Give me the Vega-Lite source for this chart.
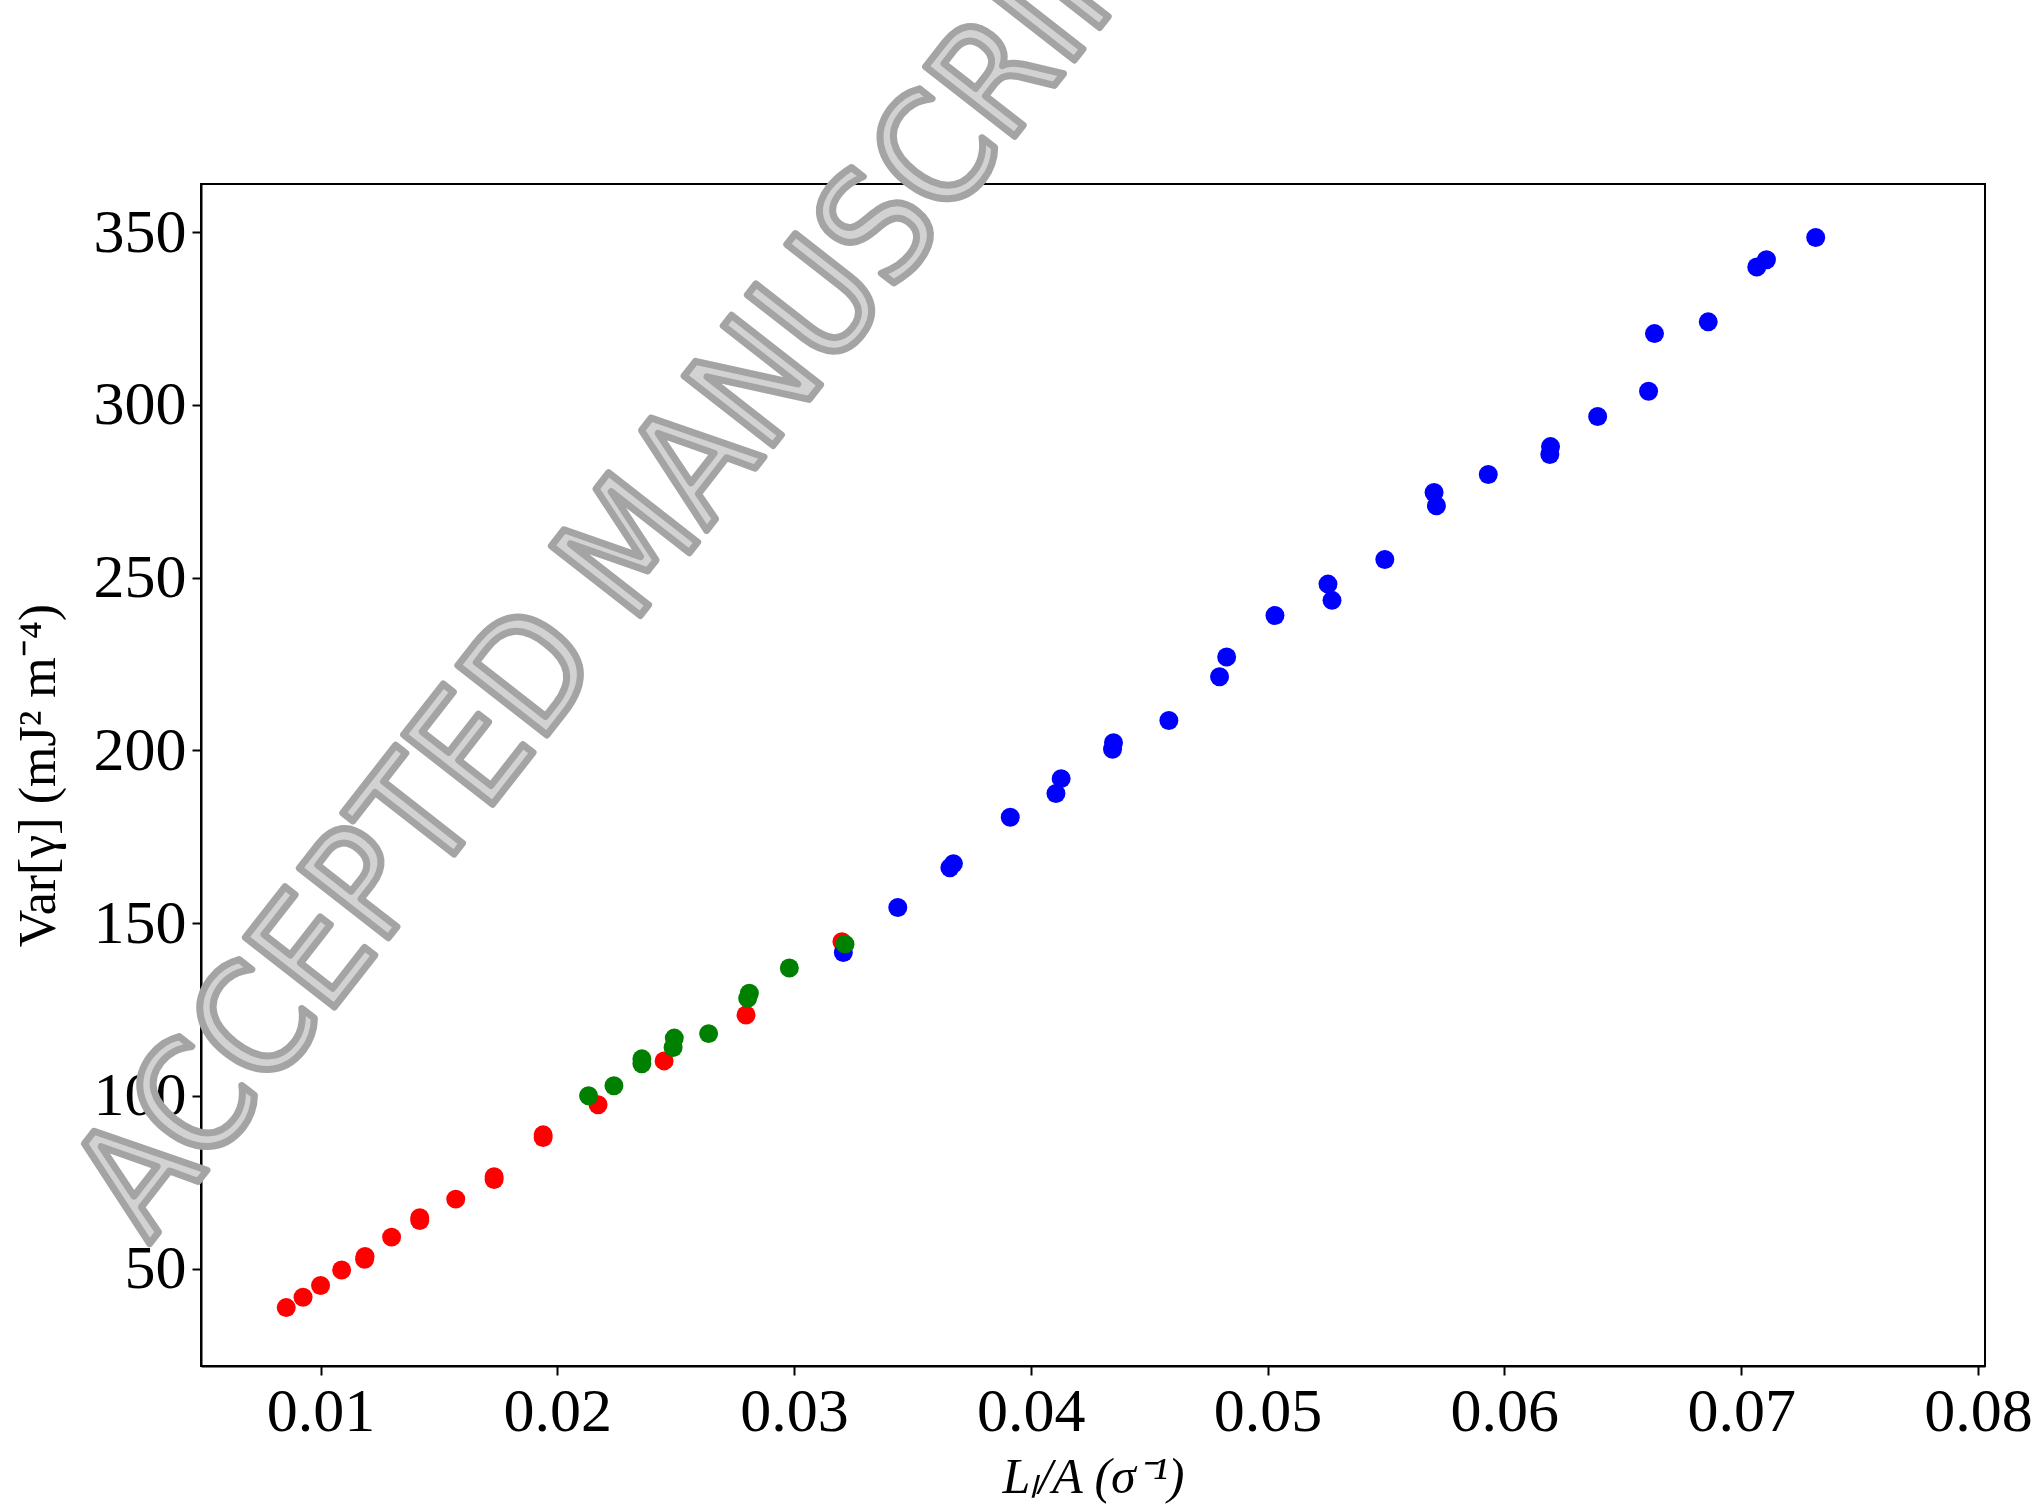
{
  "$schema": "https://vega.github.io/schema/vega-lite/v6.json",
  "autosize": {"type": "none"},
  "padding": {"left": 201, "top": 184, "right": 52, "bottom": 142},
  "width": 1784,
  "height": 1182,
  "background": "white",
  "datasets": {
    "points": [
      {"series": "red", "x": 0.00855, "y": 38.7},
      {"series": "red", "x": 0.00926, "y": 41.7},
      {"series": "red", "x": 0.01000, "y": 45.1},
      {"series": "red", "x": 0.01089, "y": 49.6},
      {"series": "red", "x": 0.01186, "y": 52.7},
      {"series": "red", "x": 0.01188, "y": 53.5},
      {"series": "red", "x": 0.01300, "y": 59.1},
      {"series": "red", "x": 0.01419, "y": 63.9},
      {"series": "red", "x": 0.01419, "y": 64.7},
      {"series": "red", "x": 0.01571, "y": 70.1},
      {"series": "red", "x": 0.01733, "y": 75.8},
      {"series": "red", "x": 0.01733, "y": 76.6},
      {"series": "red", "x": 0.01940, "y": 87.9},
      {"series": "red", "x": 0.01940, "y": 88.7},
      {"series": "red", "x": 0.02172, "y": 97.4},
      {"series": "red", "x": 0.02451, "y": 110.1},
      {"series": "red", "x": 0.02797, "y": 123.4},
      {"series": "red", "x": 0.03202, "y": 144.6},
      {"series": "blue", "x": 0.03208, "y": 141.5},
      {"series": "blue", "x": 0.03438, "y": 154.5},
      {"series": "blue", "x": 0.03658, "y": 166.0},
      {"series": "blue", "x": 0.03673, "y": 167.2},
      {"series": "blue", "x": 0.03913, "y": 180.6},
      {"series": "blue", "x": 0.04106, "y": 187.5},
      {"series": "blue", "x": 0.04128, "y": 191.8},
      {"series": "blue", "x": 0.04345, "y": 200.3},
      {"series": "blue", "x": 0.04349, "y": 202.2},
      {"series": "blue", "x": 0.04583, "y": 208.6},
      {"series": "blue", "x": 0.04797, "y": 221.3},
      {"series": "blue", "x": 0.04827, "y": 227.0},
      {"series": "blue", "x": 0.05031, "y": 239.0},
      {"series": "blue", "x": 0.05255, "y": 248.1},
      {"series": "blue", "x": 0.05272, "y": 243.4},
      {"series": "blue", "x": 0.05495, "y": 255.2},
      {"series": "blue", "x": 0.05703, "y": 274.6},
      {"series": "blue", "x": 0.05713, "y": 270.8},
      {"series": "blue", "x": 0.05932, "y": 279.8},
      {"series": "blue", "x": 0.06195, "y": 287.9},
      {"series": "blue", "x": 0.06192, "y": 285.6},
      {"series": "blue", "x": 0.06394, "y": 296.6},
      {"series": "blue", "x": 0.06609, "y": 303.9},
      {"series": "blue", "x": 0.06634, "y": 320.6},
      {"series": "blue", "x": 0.06861, "y": 324.0},
      {"series": "blue", "x": 0.07066, "y": 339.9},
      {"series": "blue", "x": 0.07107, "y": 342.0},
      {"series": "blue", "x": 0.07315, "y": 348.4},
      {"series": "green", "x": 0.02132, "y": 100.0},
      {"series": "green", "x": 0.02239, "y": 102.9},
      {"series": "green", "x": 0.02357, "y": 109.3},
      {"series": "green", "x": 0.02357, "y": 110.7},
      {"series": "green", "x": 0.02489, "y": 114.0},
      {"series": "green", "x": 0.02494, "y": 116.7},
      {"series": "green", "x": 0.02639, "y": 118.0},
      {"series": "green", "x": 0.02804, "y": 128.2},
      {"series": "green", "x": 0.02811, "y": 129.7},
      {"series": "green", "x": 0.02980, "y": 137.0},
      {"series": "green", "x": 0.03215, "y": 143.9}
    ]
  },
  "layer": [
    {
      "data": {"values": [{"label": "ACCEPTED MANUSCRIPT"}]},
      "mark": {
        "type": "text",
        "align": "left",
        "baseline": "alphabetic",
        "angle": -52,
        "font": "DejaVu Sans Condensed, Liberation Sans Narrow, DejaVu Sans",
        "fontSize": 155,
        "fill": "#d2d2d2",
        "stroke": "#a4a4a4",
        "strokeWidth": 7,
        "strokeJoin": "round",
        "clip": false
      },
      "encoding": {
        "x": {"datum": 0.00275, "type": "quantitative"},
        "y": {"datum": 57.0, "type": "quantitative"},
        "text": {"field": "label", "type": "nominal"}
      }
    },
    {
      "data": {"name": "points"},
      "mark": {"type": "point", "shape": "circle", "filled": true, "opacity": 1, "size": 360, "strokeWidth": 0},
      "encoding": {
        "x": {
          "field": "x", "type": "quantitative",
          "scale": {"domain": [0.00495, 0.0803], "nice": false, "zero": false},
          "axis": {
            "title": "Lₗ/A (σ⁻¹)",
            "values": [0.01, 0.02, 0.03, 0.04, 0.05, 0.06, 0.07, 0.08],
            "format": ".2f",
            "titleFontStyle": "italic",
            "titleFontSize": 50,
            "titlePadding": 10
          }
        },
        "y": {
          "field": "y", "type": "quantitative",
          "scale": {"domain": [21.8, 363.9], "nice": false, "zero": false},
          "axis": {
            "title": "Var[γ] (mJ² m⁻⁴)",
            "values": [50, 100, 150, 200, 250, 300, 350],
            "format": "d",
            "titleFontSize": 52,
            "titlePadding": 28
          }
        },
        "color": {
          "field": "series", "type": "nominal",
          "scale": {"domain": ["red", "blue", "green"], "range": ["#ff0000", "#0000ff", "#008000"]},
          "legend": null
        }
      }
    }
  ],
  "config": {
    "view": {"stroke": "#000000", "strokeWidth": 2},
    "axis": {
      "grid": false,
      "zindex": 1,
      "domainColor": "#000000",
      "domainWidth": 2,
      "tickColor": "#000000",
      "tickWidth": 2,
      "tickSize": 9,
      "labelFont": "Liberation Serif",
      "labelFontSize": 62,
      "labelColor": "#000000",
      "labelPadding": 6,
      "titleFont": "Liberation Serif",
      "titleFontWeight": "normal",
      "titleColor": "#000000",
      "labelOverlap": false,
      "labelFlush": false
    }
  }
}
